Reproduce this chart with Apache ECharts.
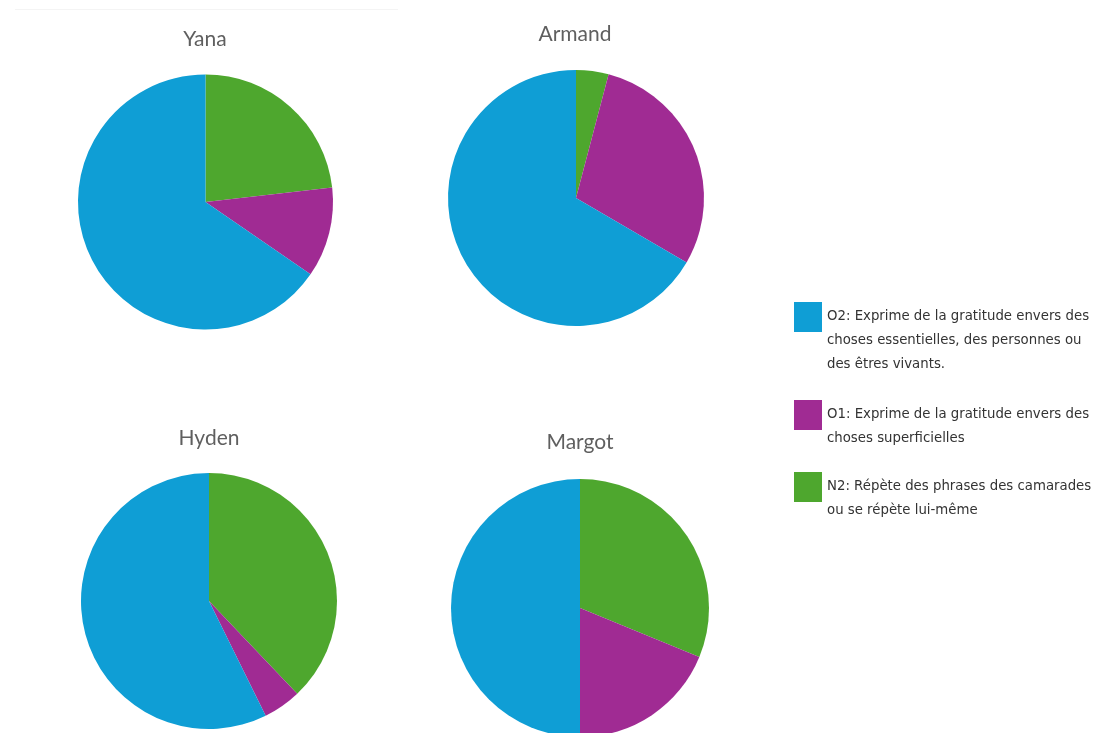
<!DOCTYPE html>
<html>
<head>
<meta charset="utf-8">
<script src="https://cdn.jsdelivr.net/npm/echarts@6/dist/echarts.min.js"></script>
<style>
  html, body { margin: 0; padding: 0; background: #ffffff; }
  #chart { width: 1104px; height: 733px; }
</style>
</head>
<body>
<div id="chart"></div>
<script>
// Categories (legend order)
const categories = [
  'O2: Exprime de la gratitude envers des choses essentielles, des personnes ou des êtres vivants.',
  'O1: Exprime de la gratitude envers des choses superficielles',
  'N2: Répète des phrases des camarades ou se répète lui-même'
];
const legendLabels = [
  'O2: Exprime de la gratitude envers des\nchoses essentielles, des personnes ou\ndes êtres vivants.',
  'O1: Exprime de la gratitude envers des\nchoses superficielles',
  'N2: Répète des phrases des camarades\nou se répète lui-même'
];
const colors = ['#0F9ED5', '#A02B93', '#4EA72E'];

// Values per student, in order [O2, O1, N2] (percent)
const students = ['Yana', 'Armand', 'Hyden', 'Margot'];
const yanaValues   = [65.4, 11.4, 23.2];
const armandValues = [66.6, 29.3, 4.1];
const hydenValues  = [57.3, 4.8, 37.9];
const margotValues = [50.0, 18.8, 31.2];
const allValues = [yanaValues, armandValues, hydenValues, margotValues];

// Layout
const pieCenters = [[205.5, 202], [576, 198], [209, 601], [580, 608]];
const pieRadii = [127.5, 128, 128, 129];
const titlePos = [[205, 38], [575, 33], [209, 437], [580, 441]];

const chart = echarts.init(document.getElementById('chart'), null, { renderer: 'canvas' });

const titleSize = 21;
const titles = students.map((s, i) => ({
  text: s,
  left: titlePos[i][0],
  top: titlePos[i][1] - titleSize * 0.65 + 4,
  textAlign: 'center',
  padding: 0,
  textStyle: { fontFamily: 'Lato', fontSize: titleSize, fontWeight: 'normal', color: '#5f5f5f' }
}));

const series = students.map((s, i) => ({
  type: 'pie',
  name: s,
  center: pieCenters[i],
  radius: [0, pieRadii[i]],
  startAngle: 90,
  clockwise: true,
  silent: true,
  label: { show: false },
  labelLine: { show: false },
  itemStyle: { borderWidth: 0 },
  emphasis: { disabled: true },
  // clockwise from top: N2, O1, O2
  data: [2, 1, 0].map(k => ({ name: categories[k], value: allValues[i][k], itemStyle: { color: colors[k] } }))
}));

const LH = 24;
const iconTops = [302, 400, 472];
const legends = categories.map((c, k) => {
  const n = legendLabels[k].split('\n').length;
  // pad with blank lines above so the first line sits level with the icon
  const txt = '\n'.repeat(n - 1) + legendLabels[k];
  const textH = (2 * n - 1) * LH;
  const offset = Math.max(0, textH / 2 - 15);
  return {
    data: [c],
    left: 794,
    top: iconTops[k] - offset,
    orient: 'vertical',
    padding: 0,
    itemWidth: 28,
    itemHeight: 30,
    icon: 'rect',
    selectedMode: false,
    formatter: () => txt,
    textStyle: {
      fontFamily: 'DejaVu Sans',
      fontSize: 13.3,
      lineHeight: LH,
      color: '#333333'
    }
  };
});

chart.setOption({
  animation: false,
  backgroundColor: '#ffffff',
  title: titles,
  legend: legends,
  graphic: [{
    type: 'line',
    shape: { x1: 15, y1: 9.5, x2: 398, y2: 9.5 },
    style: { stroke: '#f4f4f4', lineWidth: 1 },
    silent: true
  }],
  series: series
});
</script>
</body>
</html>
